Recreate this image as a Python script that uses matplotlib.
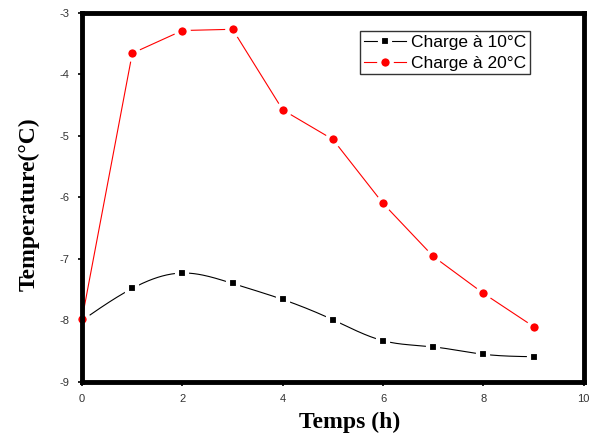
import numpy as np
import matplotlib.pyplot as plt

plt.rcParams['axes.unicode_minus'] = False

# Données
temps = [0, 1, 2, 3, 4, 5, 6, 7, 8, 9]
charge_10 = [-8.00, -7.48, -7.23, -7.40, -7.66, -7.99, -8.33, -8.43, -8.55, -8.59]
charge_20 = [-7.97, -3.66, -3.29, -3.27, -4.58, -5.06, -6.10, -6.96, -7.56, -8.10]

xticks = [0, 2, 4, 6, 8, 10]
yticks = [-9, -8, -7, -6, -5, -4, -3]


def spline_naturelle(x, y, n=300):
    # courbe lissée (spline cubique naturelle) passant par les points
    x = np.asarray(x, float)
    y = np.asarray(y, float)
    k = len(x)
    h = np.diff(x)
    A = np.zeros((k, k))
    b = np.zeros(k)
    A[0, 0] = A[-1, -1] = 1
    for i in range(1, k - 1):
        A[i, i - 1] = h[i - 1]
        A[i, i] = 2 * (h[i - 1] + h[i])
        A[i, i + 1] = h[i]
        b[i] = 6 * ((y[i + 1] - y[i]) / h[i] - (y[i] - y[i - 1]) / h[i - 1])
    M = np.linalg.solve(A, b)
    xs = np.linspace(x[0], x[-1], n)
    idx = np.clip(np.searchsorted(x, xs) - 1, 0, k - 2)
    x0, x1 = x[idx], x[idx + 1]
    hh = x1 - x0
    ys = (M[idx] * (x1 - xs) ** 3 / (6 * hh) + M[idx + 1] * (xs - x0) ** 3 / (6 * hh)
          + (y[idx] / hh - M[idx] * hh / 6) * (x1 - xs)
          + (y[idx + 1] / hh - M[idx + 1] * hh / 6) * (xs - x0))
    return xs, ys


fig = plt.figure(figsize=(5.95, 4.37), dpi=100)
ax = fig.add_axes([0.138, 0.126, 0.843, 0.845])

noir = dict(marker='s', ms=7.8, mfc='black', mec='white', mew=3)
rouge = dict(marker='o', ms=9, mfc='red', mec='white', mew=3)

xs, ys = spline_naturelle(temps, charge_10)
ax.plot(xs, ys, color='black', lw=0.8, zorder=2)
ax.plot(temps, charge_10, ls='none', zorder=3, clip_on=False, **noir)
ax.plot(temps, charge_20, color='red', lw=0.8, zorder=4, clip_on=False, **rouge)

# handles de légende
h1, = ax.plot([], [], color='black', lw=0.8, label='Charge à 10°C', **noir)
h2, = ax.plot([], [], color='red', lw=0.8, label='Charge à 20°C', **rouge)

ax.set_xlim(0, 10)
ax.set_ylim(-9, -3)
ax.set_xticks(xticks)
ax.set_yticks(yticks)
ax.tick_params(labelsize=8, labelcolor='#333333', length=3, width=1.2,
               direction='out', pad=6)
for lab in ax.get_xticklabels() + ax.get_yticklabels():
    lab.set_family('Liberation Sans')

for s in ax.spines.values():
    s.set_linewidth(3.5)
    s.set_zorder(5)

ax.set_xlabel('Temps (h)', fontsize=17, fontweight='bold',
              family='Liberation Serif')
ax.set_ylabel('Temperature(°C)', fontsize=17, fontweight='bold',
              family='Liberation Serif')
ax.xaxis.set_label_coords(0.533, -0.082)
ax.yaxis.set_label_coords(-0.085, 0.481)

leg = ax.legend(handles=[h1, h2], loc='upper left', bbox_to_anchor=(0.555, 0.95),
                prop={'family': 'Liberation Sans', 'size': 12.5},
                frameon=True, fancybox=False, borderpad=0.2,
                handlelength=2.4, handletextpad=0.3, labelspacing=0.35,
                borderaxespad=0)
leg.get_frame().set_edgecolor('black')
leg.get_frame().set_linewidth(1.0)

fig.savefig('out.png', dpi=100)
